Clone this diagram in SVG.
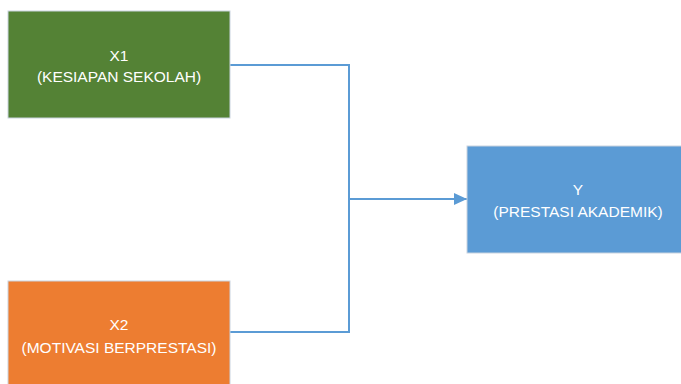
<svg xmlns="http://www.w3.org/2000/svg" width="681" height="384" viewBox="0 0 681 384">
<style>
.box{stroke:#c9d3df;stroke-width:1}
.t{font-family:"Liberation Sans",Arial,sans-serif;font-size:15.5px;fill:#ffffff;text-anchor:middle}
.c{fill:none;stroke:#5b9bd5;stroke-width:2}
</style>
<defs>
<marker id="ah" markerWidth="13" markerHeight="12" refX="13" refY="6" orient="auto" markerUnits="userSpaceOnUse">
<path d="M0,0 L13,6 L0,12 Z" fill="#5b9bd5"/>
</marker>
</defs>
<rect width="681" height="384" fill="#ffffff"/>
<g id="connectors">
<path class="c" d="M230,65 H349 V332 H230"/>
<path class="c" d="M349,199 H467" marker-end="url(#ah)"/>
</g>
<g id="x1">
<rect class="box" x="8" y="11" width="222" height="107" fill="#548235"/>
<text class="t" x="119" y="61">X1</text>
<text class="t" x="119" y="82">(KESIAPAN SEKOLAH)</text>
</g>
<g id="x2">
<rect class="box" x="8" y="281" width="222" height="107" fill="#ed7d31"/>
<text class="t" x="119" y="330">X2</text>
<text class="t" x="119" y="353">(MOTIVASI BERPRESTASI)</text>
</g>
<g id="y">
<rect class="box" x="467" y="146" width="222" height="107" fill="#5b9bd5"/>
<text class="t" x="578" y="195">Y</text>
<text class="t" x="578" y="217">(PRESTASI AKADEMIK)</text>
</g>
</svg>
